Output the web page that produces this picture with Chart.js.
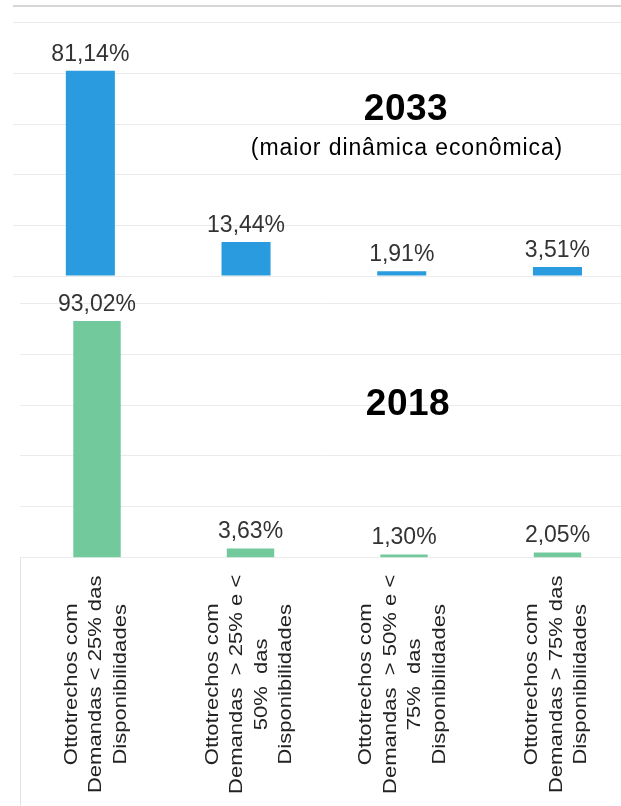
<!DOCTYPE html>
<html><head><meta charset="utf-8">
<script src="https://cdn.jsdelivr.net/npm/chart.js@4.4.0/dist/chart.umd.min.js"></script>
<style>
html,body{margin:0;padding:0;background:#fff;overflow:hidden;width:621px;height:806px;}
#wrap{position:relative;width:621px;height:806px;overflow:hidden;background:#fff;}
#c1{position:absolute;left:0;top:0;}
#c2{position:absolute;left:0;top:280px;}
.t{position:absolute;font-family:'Liberation Sans',Arial,sans-serif;color:#000;text-align:center;white-space:nowrap;width:400px;}
#t1{left:206px;top:88.7px;font-size:37px;line-height:37px;font-weight:bold;letter-spacing:0.5px;}
#t2{left:207px;top:135.7px;font-size:23px;line-height:23px;letter-spacing:0.9px;}
#t3{left:208px;top:383.7px;font-size:37px;line-height:37px;font-weight:bold;letter-spacing:0.5px;}
</style></head><body>
<div id="wrap">
<canvas id="c1" width="660" height="280"></canvas>
<canvas id="c2" width="660" height="526"></canvas>
<div class="t" id="t1">2033</div>
<div class="t" id="t2">(maior dinâmica econômica)</div>
<div class="t" id="t3">2018</div>
</div>
<script>
const categories = [
  ["Ottotrechos com", "Demandas < 25% das", "Disponibilidades"],
  ["Ottotrechos com", "Demandas  > 25% e <", "50%  das", "Disponibilidades"],
  ["Ottotrechos com", "Demandas  > 50% e <", "75%  das", "Disponibilidades"],
  ["Ottotrechos com", "Demandas > 75% das", "Disponibilidades"]
];
const values2033 = [81.14, 13.44, 1.91, 3.51];
const values2018 = [93.02, 3.63, 1.30, 2.05];
const yTicks = [0, 20, 40, 60, 80, 100];
const yMax2033 = 106.8;
const yMax2018 = 100;

const FONT = '"Liberation Sans", Arial, sans-serif';

const valueLabels = {
  id: 'valueLabels',
  afterDatasetsDraw(chart) {
    const ctx = chart.ctx;
    const meta = chart.getDatasetMeta(0);
    const data = chart.data.datasets[0].data;
    ctx.save();
    ctx.font = '23px ' + FONT;
    ctx.fillStyle = '#333333';
    ctx.textAlign = 'center';
    ctx.textBaseline = 'alphabetic';
    meta.data.forEach((bar, i) => {
      ctx.fillText(data[i].toFixed(2).replace('.', ',') + '%', bar.x, bar.y - 10);
    });
    ctx.restore();
  }
};

const catLabels = {
  id: 'catLabels',
  afterDraw(chart) {
    const ctx = chart.ctx;
    const xs = chart.scales.x;
    const cy = xs.top + xs.height * 0.51;
    ctx.save();
    ctx.font = '19px ' + FONT;
    ctx.fillStyle = '#222222';
    ctx.textAlign = 'center';
    ctx.textBaseline = 'middle';
    chart.data.labels.forEach((lines, i) => {
      const x = xs.getPixelForValue(i) - 1;
      ctx.save();
      ctx.translate(x, cy);
      ctx.rotate(-Math.PI / 2);
      ctx.scale(1.16, 1);
      lines.forEach((ln, j) => ctx.fillText(ln, 0, (j - (lines.length - 1) / 2) * 24.5));
      ctx.restore();
    });
    ctx.restore();
  }
};

function yScale(max, extra) {
  return {
    min: 0, max: max,
    afterFit: s => { s.width = 0; },
    afterBuildTicks: s => { s.ticks = yTicks.concat(extra).map(v => ({ value: v })); },
    ticks: { display: false },
    border: { display: false },
    grid: {
      drawTicks: false,
      color: c => (c.tick && c.tick.value > 100) ? '#d6d6d6' : '#ebebeb',
      lineWidth: c => (c.tick && c.tick.value > 100) ? 2 : 1
    }
  };
}

new Chart(document.getElementById('c1'), {
  type: 'bar',
  data: { labels: categories, datasets: [{ data: values2033, backgroundColor: '#2A9BDE', barPercentage: 0.315, categoryPercentage: 1 }] },
  options: {
    responsive: false, animation: false, events: [],
    layout: { padding: { left: 12.5, right: 660 - 635.3, top: 5.7, bottom: 4 } },
    plugins: { legend: { display: false }, tooltip: { enabled: false } },
    scales: {
      x: { display: false },
      y: yScale(yMax2033, [yMax2033])
    }
  },
  plugins: [valueLabels]
});

const edgeColor = c => c.index === 0 ? '#e3e3e3' : 'rgba(0,0,0,0)';
new Chart(document.getElementById('c2'), {
  type: 'bar',
  data: { labels: categories, datasets: [{ data: values2018, backgroundColor: '#72C99C', barPercentage: 0.309, categoryPercentage: 1 }] },
  options: {
    responsive: false, animation: false, events: [],
    layout: { padding: { left: 20.25, right: 660 - 634.25, top: 23.3, bottom: 0 } },
    plugins: { legend: { display: false }, tooltip: { enabled: false } },
    scales: {
      x: {
        ticks: { display: false },
        border: { display: false },
        afterFit: s => { s.height = 248.3; },
        grid: { offset: true, drawOnChartArea: false, drawTicks: true, tickLength: 260, color: edgeColor, tickColor: edgeColor }
      },
      y: yScale(yMax2018, [])
    }
  },
  plugins: [valueLabels, catLabels]
});
</script>
</body></html>
